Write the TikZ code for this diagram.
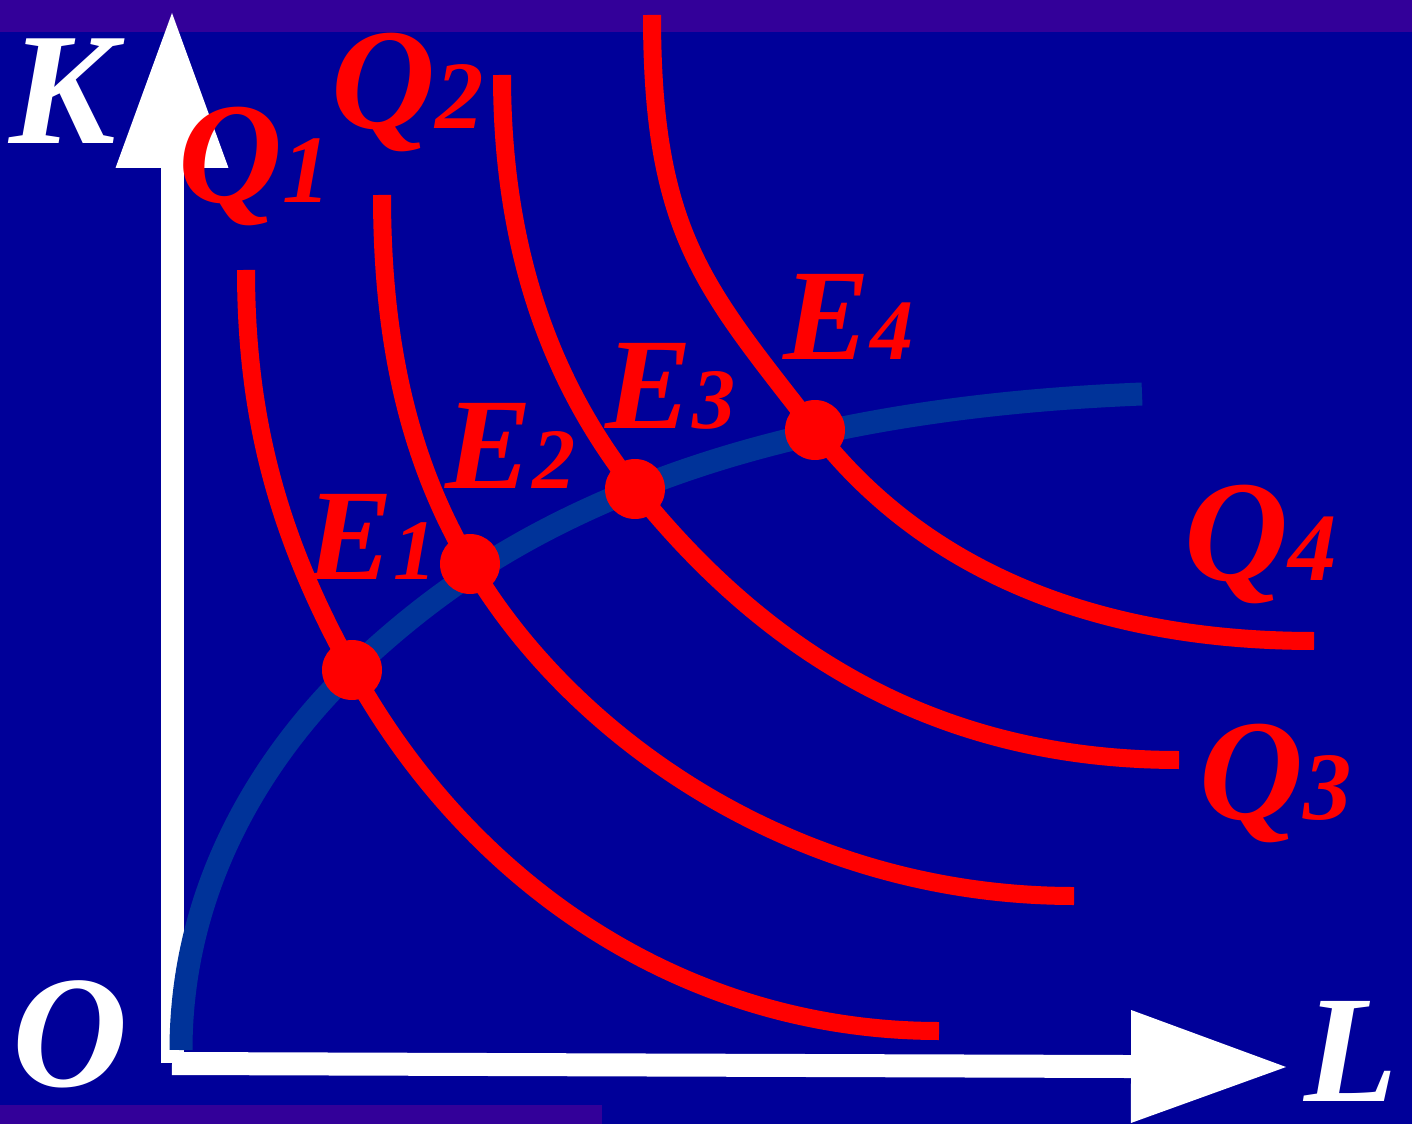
\documentclass[tikz,border=0pt]{standalone}
\usepackage{fontspec}
\setmainfont{Liberation Serif}
\usepackage{tikz}
\usetikzlibrary{arrows.meta}
\definecolor{deepblue}{RGB}{0,0,153}
\definecolor{bandviolet}{RGB}{51,0,153}
\definecolor{pathblue}{RGB}{0,51,153}
\definecolor{isored}{RGB}{255,0,0}

\newcommand{\elab}[1]{{\fontsize{74}{74}\selectfont E}{\fontsize{49}{49}\selectfont #1}}
\newcommand{\qlab}[1]{{\fontsize{82}{82}\selectfont Q}{\fontsize{55}{55}\selectfont #1}}
\newcommand{\axlab}[1]{{\fontsize{91}{91}\selectfont #1}}

\tikzset{
    isoquant/.style={draw=isored, line width=0.36cm},
    tangentdot/.style={circle, fill=isored, inner sep=0pt, minimum size=1.2cm},
    axisline/.style={draw=white, line width=0.46cm, -{Triangle[length=3.1cm, width=2.26cm, line width=0pt]}},
    lbl/.style={inner sep=0pt, anchor=base west, font=\bfseries\itshape},
}

\begin{document}
\begin{tikzpicture}[x=0.02cm, y=-0.02cm]
    % background and bands
    \fill[deepblue] (0,0) rectangle (1412,1124);
    \fill[bandviolet] (0,0) rectangle (1412,32);
    \fill[bandviolet] (0,1105) rectangle (602,1124);
    \useasboundingbox (0,0) rectangle (1412,1124);

    % axes
    \coordinate (kfoot) at (172,1063);
    \coordinate (ktip) at (172,13);
    \coordinate (lfoot) at (172,1063.5);
    \coordinate (ltip) at (1286,1067);
    \draw[axisline] (kfoot) -- (ktip);
    \draw[axisline] (lfoot) -- (ltip);

    % tangency points
    \coordinate (e1) at (352,670);
    \coordinate (e2) at (470,564);
    \coordinate (e3) at (635,489);
    \coordinate (e4) at (815,430);

    % expansion path
    \coordinate (pathstart) at (181,1050);
    \coordinate (pathend) at (1142,394);
    \draw[pathblue, line width=0.46cm] (pathstart)
        .. controls (181,870) and (280,739) .. (e1)
        .. controls (439,587) and (524,534) .. (e3)
        .. controls (774,433) and (942,402) .. (pathend);

    % isoquants
    \coordinate (q1top) at (246,270);
    \coordinate (q1end) at (939,1031);
    \coordinate (q2top) at (382,195);
    \coordinate (q2end) at (1074,896);
    \coordinate (q3top) at (502,75);
    \coordinate (q3end) at (1179,760);
    \coordinate (q4top) at (652,15);
    \coordinate (q4end) at (1314,641);
    \draw[isoquant] (q1top) .. controls (246,420) and (279,539) .. (e1)
        .. controls (473,889) and (689,1031) .. (q1end);
    \draw[isoquant] (q2top) .. controls (382,355) and (414,469) .. (e2)
        .. controls (571,736) and (794,896) .. (q2end);
    \draw[isoquant] (q3top) .. controls (502,255) and (554,387) .. (e3)
        .. controls (760,645) and (929,760) .. (q3end);
    \draw[isoquant] (q4top) .. controls (652,235) and (705,288) .. (e4)
        .. controls (907,549) and (1064,641) .. (q4end);

    \node[tangentdot] (dotE1) at (e1) {};
    \node[tangentdot] (dotE2) at (e2) {};
    \node[tangentdot] (dotE3) at (e3) {};
    \node[tangentdot] (dotE4) at (e4) {};

    % labels
    \node[lbl, text=isored] (labE1) at (306,579) {\elab{1}};
    \node[lbl, text=isored] (labE2) at (445,489) {\elab{2}};
    \node[lbl, text=isored] (labE3) at (605,429) {\elab{3}};
    \node[lbl, text=isored] (labE4) at (783,360) {\elab{4}};
    \node[lbl, text=isored] (labQ1) at (178,203) {\qlab{1}};
    \node[lbl, text=isored] (labQ2) at (331,129) {\qlab{2}};
    \node[lbl, text=isored] (labQ3) at (1199,819) {\qlab{3}};
    \node[lbl, text=isored] (labQ4) at (1184,581) {\qlab{4}};
    \node[lbl, text=white] (labK) at (9,144) {\axlab{K}};
    \node[lbl, text=white] (labO) at (12,1086) {\axlab{O}};
    \node[lbl, text=white, anchor=base east] (labL) at (1398,1101) {{\fontsize{87}{87}\selectfont L}};
\end{tikzpicture}
\end{document}
